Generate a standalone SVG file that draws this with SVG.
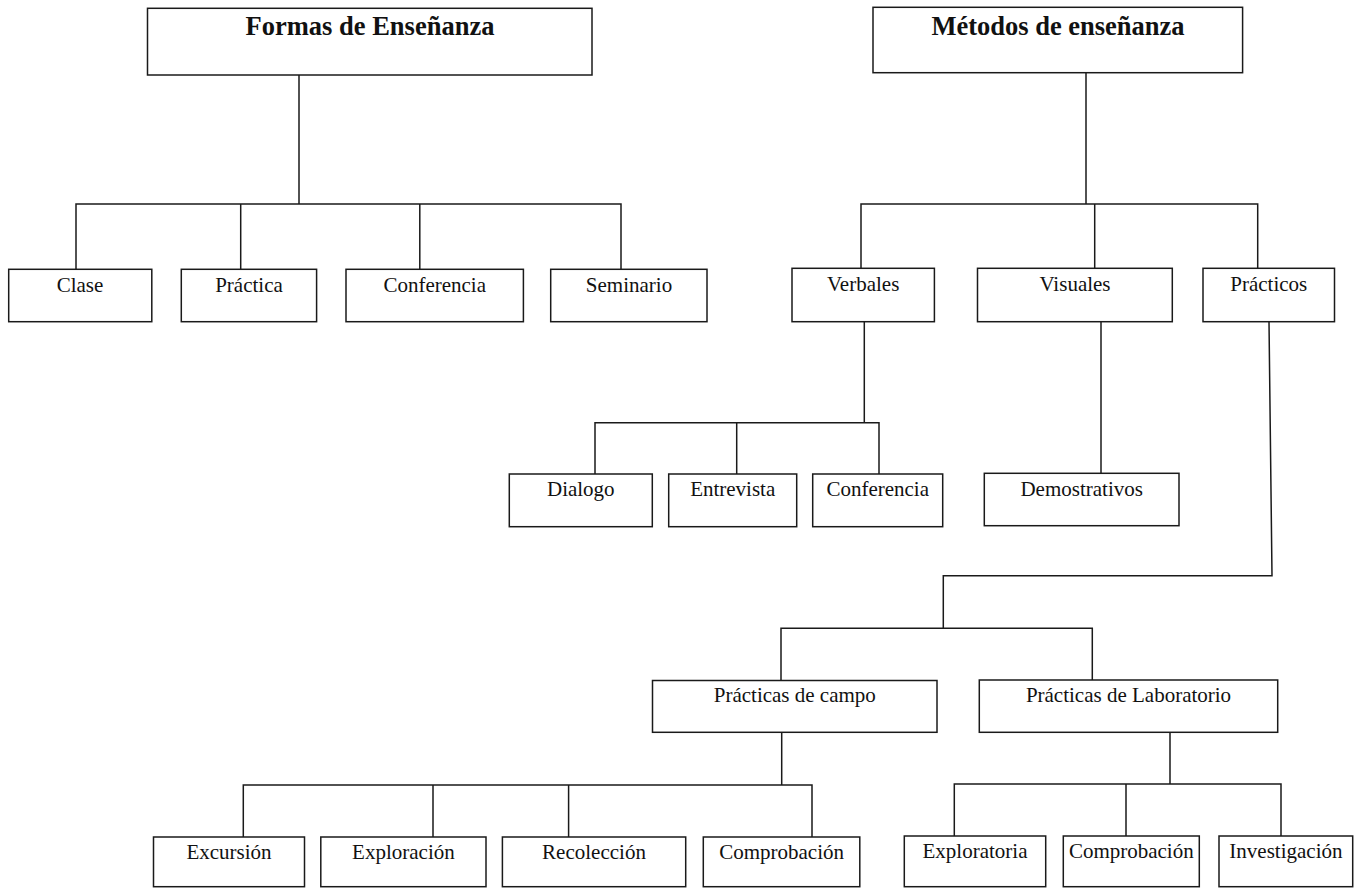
<svg xmlns="http://www.w3.org/2000/svg" width="1356" height="888" viewBox="0 0 1356 888">
<defs>
<style>
.box{fill:#fff;stroke:#1a1a1a;stroke-width:1.5}
.t{font-family:"Liberation Serif","Times New Roman",serif;font-size:21px;fill:#111;text-anchor:middle}
.h{font-family:"Liberation Serif","Times New Roman",serif;font-size:26.5px;font-weight:bold;fill:#111;text-anchor:middle}
.c{fill:none;stroke:#1a1a1a;stroke-width:1.5}
</style>
</defs>
<rect width="1356" height="888" fill="#fff"/>
<g id="connectors" class="c">
<path d="M299 75 V204 M76 269.3 V204 H621 V269.3 M240.7 204 V269.3 M419.8 204 V269.3"/>
<path d="M1086 72.7 V204 M861 268.3 V204 H1257.7 V268.3 M1094.7 204 V268.3"/>
<path d="M864.3 321.7 V422.7 M595 474 V422.7 H879 V474 M736.7 422.7 V474"/>
<path d="M1101 321.7 V473.3"/>
<path d="M1269 321.7 L1272 575.7 H943.3 V628.3 M781 680.5 V628.3 H1092.3 V680"/>
<path d="M781.7 732.3 V785 M243.3 837 V785 H812 V837 M433 785 V837 M568.6 785 V837"/>
<path d="M1170 732.3 V784 M954.3 836 V784 H1281 V836 M1126 784 V836"/>
</g>
<g id="formas"><rect class="box" x="147.5" y="8.3" width="444.5" height="66.7"/><text class="h" x="370" y="35">Formas de Enseñanza</text></g>
<g id="metodos"><rect class="box" x="873" y="7.3" width="369.6" height="65.4"/><text class="h" x="1058" y="34.5">Métodos de enseñanza</text></g>
<g id="clase"><rect class="box" x="8.7" y="269.3" width="143.1" height="52.4"/><text class="t" x="80" y="291.5">Clase</text></g>
<g id="practica"><rect class="box" x="181.3" y="269.3" width="135.3" height="52.4"/><text class="t" x="249" y="291.5">Práctica</text></g>
<g id="conferencia1"><rect class="box" x="346" y="269.3" width="177.4" height="52.4"/><text class="t" x="434.7" y="291.5">Conferencia</text></g>
<g id="seminario"><rect class="box" x="550.7" y="269.3" width="156.3" height="52.4"/><text class="t" x="629" y="291.5">Seminario</text></g>
<g id="verbales"><rect class="box" x="792" y="268.3" width="142.4" height="53.4"/><text class="t" x="863.2" y="290.5">Verbales</text></g>
<g id="visuales"><rect class="box" x="977.5" y="268.3" width="194.8" height="53.4"/><text class="t" x="1075" y="290.5">Visuales</text></g>
<g id="practicos"><rect class="box" x="1203" y="268.3" width="131.5" height="53.4"/><text class="t" x="1268.8" y="290.5">Prácticos</text></g>
<g id="dialogo"><rect class="box" x="509.3" y="474" width="143" height="52.7"/><text class="t" x="580.8" y="496">Dialogo</text></g>
<g id="entrevista"><rect class="box" x="668.7" y="474" width="128" height="52.7"/><text class="t" x="732.7" y="496">Entrevista</text></g>
<g id="conferencia2"><rect class="box" x="812.7" y="474" width="130" height="52.7"/><text class="t" x="877.7" y="496">Conferencia</text></g>
<g id="demostrativos"><rect class="box" x="984.3" y="473.3" width="194.7" height="52.4"/><text class="t" x="1081.7" y="495.5">Demostrativos</text></g>
<g id="campo"><rect class="box" x="652.5" y="680.5" width="284.5" height="51.8"/><text class="t" x="794.8" y="702">Prácticas de campo</text></g>
<g id="laboratorio"><rect class="box" x="979.3" y="680" width="298.4" height="52.3"/><text class="t" x="1128.5" y="702">Prácticas de Laboratorio</text></g>
<g id="excursion"><rect class="box" x="153.5" y="837" width="151" height="49.7"/><text class="t" x="229" y="858.5">Excursión</text></g>
<g id="exploracion"><rect class="box" x="320.8" y="837" width="165.2" height="49.7"/><text class="t" x="403.4" y="858.5">Exploración</text></g>
<g id="recoleccion"><rect class="box" x="502.4" y="837" width="183.3" height="49.7"/><text class="t" x="594" y="858.5">Recolección</text></g>
<g id="comprobacion1"><rect class="box" x="703.3" y="837" width="156.5" height="49.7"/><text class="t" x="781.6" y="858.5">Comprobación</text></g>
<g id="exploratoria"><rect class="box" x="904.3" y="836" width="141.4" height="50.7"/><text class="t" x="975" y="857.5">Exploratoria</text></g>
<g id="comprobacion2"><rect class="box" x="1063.3" y="836" width="136" height="50.7"/><text class="t" x="1131.3" y="857.5">Comprobación</text></g>
<g id="investigacion"><rect class="box" x="1219" y="836" width="133.7" height="50.7"/><text class="t" x="1285.9" y="857.5">Investigación</text></g>
</svg>
